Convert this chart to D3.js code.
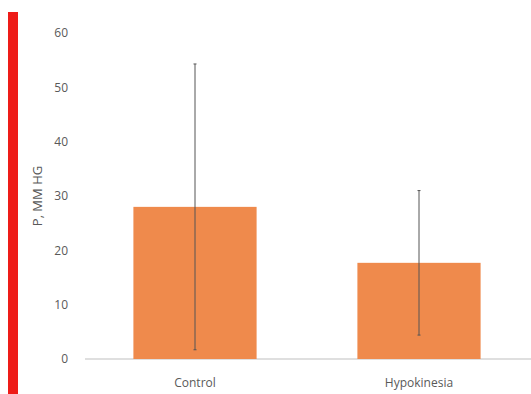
<!DOCTYPE html>
<html><head><meta charset="utf-8">
<script src="https://cdn.jsdelivr.net/npm/d3@7"></script>
<style>body{margin:0;background:#fff}svg{display:block}text{font-family:"Open Sans",Calibri,Carlito,sans-serif}</style>
</head><body>
<svg id="c" width="531" height="394"></svg>
<script>
const categories = ["Control", "Hypokinesia"];
const means = [28, 17.7];
const errors = [26.3, 13.3];
const yTicks = [0, 10, 20, 30, 40, 50, 60];
const yLabel = "P, MM HG";

const svg = d3.select("#c");
svg.append("rect").attr("x", 8).attr("y", 12).attr("width", 10).attr("height", 382).attr("fill", "#ee1c18");

const y = d3.scaleLinear().domain([0, 60]).range([359, 33]);
const x = d3.scaleBand().domain(categories).range([83, 531]).paddingInner(0.45).paddingOuter(0.225);

const ya = svg.append("g").attr("transform", "translate(68,0)")
  .call(d3.axisLeft(y).tickValues(yTicks).tickSize(0).tickPadding(0));
ya.select(".domain").remove();
ya.selectAll("text").attr("fill", "#595959").style("font-size", "12px");

svg.append("line").attr("x1", 85).attr("x2", 531).attr("y1", y(0)).attr("y2", y(0))
  .attr("stroke", "#bfbfbf").attr("stroke-width", 1);

svg.selectAll(".bar").data(categories).enter().append("rect")
  .attr("x", d => x(d)).attr("width", x.bandwidth())
  .attr("y", (d, i) => y(means[i])).attr("height", (d, i) => y(0) - y(means[i]))
  .attr("fill", "#ef8a4c");

svg.selectAll(".err").data(categories).enter().append("line")
  .attr("x1", d => x(d) + x.bandwidth() / 2).attr("x2", d => x(d) + x.bandwidth() / 2)
  .attr("y1", (d, i) => y(means[i] + errors[i])).attr("y2", (d, i) => y(means[i] - errors[i]))
  .attr("stroke", "#555").attr("stroke-width", 1);
svg.selectAll(".capT").data(categories).enter().append("line")
  .attr("x1", d => x(d) + x.bandwidth() / 2 - 1.5).attr("x2", d => x(d) + x.bandwidth() / 2 + 1.5)
  .attr("y1", (d, i) => y(means[i] + errors[i])).attr("y2", (d, i) => y(means[i] + errors[i]))
  .attr("stroke", "#555").attr("stroke-width", 1);
svg.selectAll(".capB").data(categories).enter().append("line")
  .attr("x1", d => x(d) + x.bandwidth() / 2 - 1.5).attr("x2", d => x(d) + x.bandwidth() / 2 + 1.5)
  .attr("y1", (d, i) => y(means[i] - errors[i])).attr("y2", (d, i) => y(means[i] - errors[i]))
  .attr("stroke", "#555").attr("stroke-width", 1);

const xa = svg.append("g").attr("transform", "translate(0,378)")
  .call(d3.axisBottom(x).tickSize(0).tickPadding(0));
xa.select(".domain").remove();
xa.selectAll("text").attr("fill", "#595959").style("font-size", "12px");

svg.append("text").attr("transform", "translate(42,196) rotate(-90)")
  .attr("text-anchor", "middle").attr("fill", "#595959").style("font-size", "13px").text(yLabel);
</script>
</body></html>
